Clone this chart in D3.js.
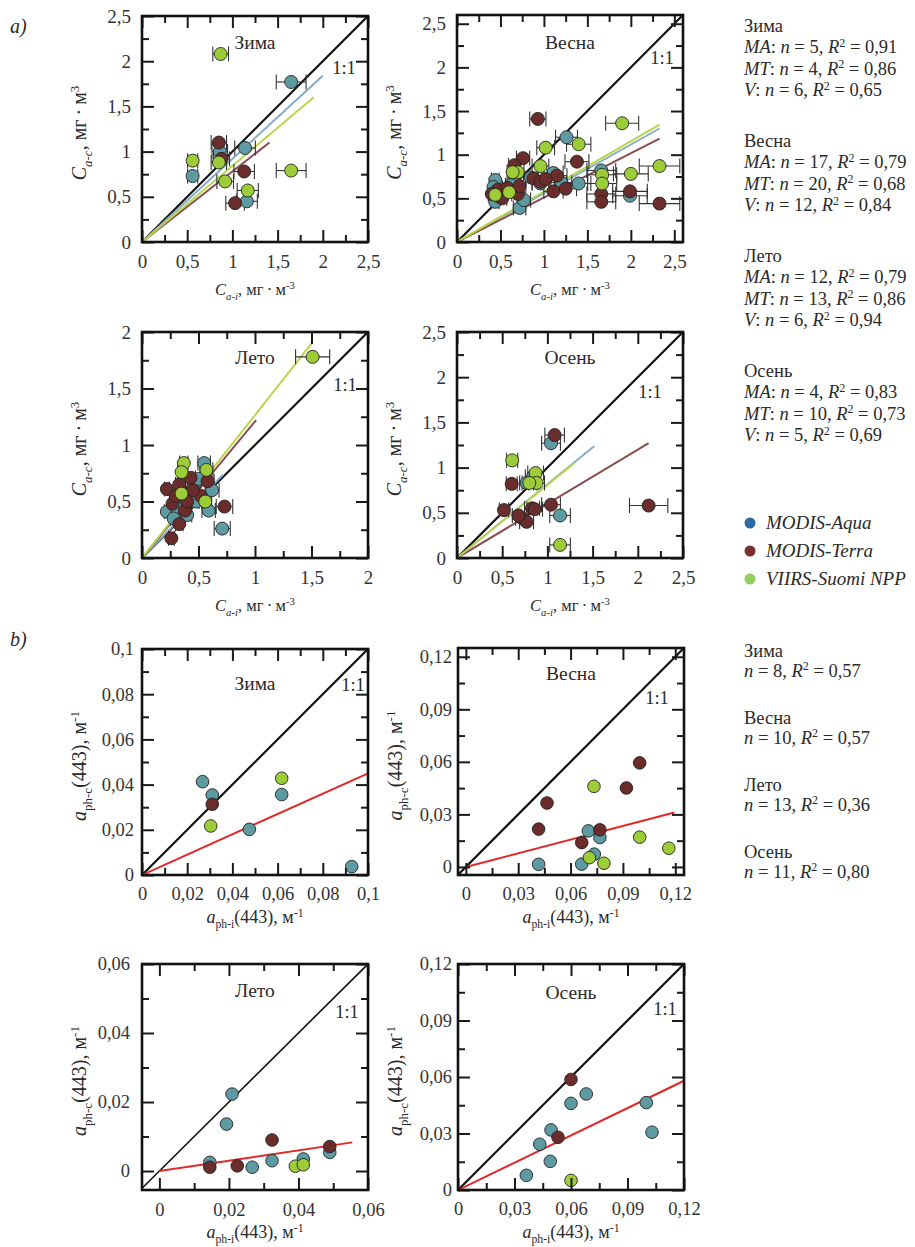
<!DOCTYPE html>
<html>
<meta charset="utf-8">
<head>
<script src="https://d3js.org/d3.v7.min.js"></script>
<style>
body { margin: 0; background: #fff; }
text { font-family: "Liberation Serif", "Times New Roman", serif !important; }
.tick line { stroke: #1a1a1a; stroke-width: 2; }
</style>
</head>
<body>
<div id="chart"></div>
<script>
// ---------- data ----------
var seasons = ["Зима", "Весна", "Лето", "Осень"];
var sensors = ["aqua", "terra", "viirs"];
var sensorNames = ["MODIS-Aqua", "MODIS-Terra", "VIIRS-Suomi NPP"];

// a) chlorophyll: [C a-i, C a-c], mg/m3
var chlWinter = {
  aqua:  [[1.65,1.77],[1.14,1.04],[0.86,1.0],[0.56,0.73],[1.16,0.45]],
  terra: [[0.85,1.10],[1.13,0.78],[1.03,0.43],[0.88,0.92]],
  viirs: [[0.87,2.08],[0.56,0.90],[0.85,0.88],[0.92,0.67],[1.17,0.57],[1.65,0.79]]
};
var chlSpring = {
  aqua:  [[1.26,1.20],[1.40,0.67],[1.66,0.82],[1.99,0.53],[0.44,0.71],[0.44,0.46],[0.72,0.39],[0.77,0.48],[1.11,0.79],
          [0.96,0.67],[0.66,0.71],[0.42,0.63],[0.55,0.58],[0.85,0.74],[1.20,0.68],[0.62,0.65],[0.48,0.52]],
  terra: [[0.93,1.41],[0.76,0.96],[0.66,0.88],[1.38,0.92],[0.88,0.73],[0.96,0.69],[1.15,0.76],[1.11,0.58],[1.25,0.61],[0.47,0.60],
          [0.40,0.55],[0.70,0.55],[1.66,0.55],[1.66,0.46],[1.99,0.58],[2.33,0.44],[0.58,0.62],[1.02,0.72],[0.52,0.50],[0.72,0.64]],
  viirs: [[1.90,1.36],[1.40,1.12],[1.02,1.08],[2.33,0.87],[2.0,0.78],[1.67,0.77],[1.67,0.67],[0.96,0.87],[0.70,0.80],[0.64,0.80],
          [0.60,0.57],[0.44,0.54]]
};
var chlSummer = {
  aqua:  [[0.55,0.84],[0.22,0.41],[0.59,0.42],[0.71,0.26],[0.34,0.53],[0.45,0.62],[0.30,0.45],[0.50,0.70],[0.40,0.38],[0.62,0.60],
          [0.28,0.35],[0.48,0.50]],
  terra: [[0.22,0.61],[0.26,0.175],[0.73,0.455],[0.58,0.68],[0.43,0.71],[0.33,0.65],[0.27,0.48],[0.33,0.30],[0.38,0.42],[0.52,0.55],
          [0.30,0.55],[0.45,0.60],[0.40,0.50]],
  viirs: [[1.51,1.78],[0.37,0.84],[0.35,0.76],[0.57,0.78],[0.35,0.57],[0.56,0.50]]
};
var chlAutumn = {
  aqua:  [[1.04,1.27],[1.14,0.47],[0.77,0.83],[0.84,0.90]],
  terra: [[1.08,1.36],[0.605,0.82],[0.52,0.53],[1.04,0.59],[0.83,0.55],[0.86,0.54],[0.72,0.44],[0.77,0.40],[2.12,0.58],[0.68,0.47]],
  viirs: [[0.61,1.08],[0.87,0.94],[0.88,0.83],[0.80,0.83],[1.14,0.145]]
};
// regression line end points (lines start at the origin)
var chlFits = [
  { aqua: [2.0,1.84],  terra: [1.41,1.10], viirs: [1.9,1.6] },
  { aqua: [2.33,1.30], terra: [2.33,1.185], viirs: [2.33,1.345] },
  { aqua: [0.72,0.74], terra: [1.01,1.22], viirs: [1.51,1.91] },
  { aqua: [1.52,1.24], terra: [2.12,1.27], viirs: [1.3,1.05] }
];
var chlRelErr = 0.1;

// b) phytoplankton absorption: [a ph-i(443), a ph-c(443)], 1/m
var aphWinter = {
  aqua:  [[0.0268,0.0413],[0.0311,0.0354],[0.0618,0.0356],[0.0475,0.0202],[0.0928,0.0037]],
  terra: [[0.0311,0.0313]],
  viirs: [[0.0618,0.0428],[0.0304,0.0217]]
};
var aphSpring = {
  aqua:  [[0.0417,0.0015],[0.0664,0.0016],[0.0702,0.0206],[0.0768,0.0168],[0.0736,0.0073]],
  terra: [[0.0996,0.0594],[0.092,0.0451],[0.0465,0.0365],[0.0417,0.0216],[0.0664,0.0139],[0.0768,0.0212]],
  viirs: [[0.0734,0.046],[0.0996,0.017],[0.1163,0.0107],[0.0708,0.0053],[0.0791,0.0021]]
};
var aphSummer = {
  aqua:  [[0.0209,0.0223],[0.0193,0.0136],[0.0145,0.0025],[0.0267,0.0011],[0.0324,0.003],[0.0414,0.0035],[0.049,0.0054]],
  terra: [[0.0324,0.009],[0.0145,0.0011],[0.0224,0.0015],[0.049,0.0071]],
  viirs: [[0.0391,0.0014],[0.0414,0.0018]]
};
var aphAutumn = {
  aqua:  [[0.0681,0.051],[0.060,0.046],[0.0494,0.0319],[0.0434,0.0243],[0.049,0.0152],[0.0363,0.0078],[0.100,0.0464],[0.103,0.0307]],
  terra: [[0.060,0.0587],[0.0531,0.028]],
  viirs: [[0.060,0.0051]]
};
var aphFits = [[0.1,0.045],[0.1195,0.0311],[0.0555,0.0083],[0.12,0.058]];

// tick labels
var ticksA = [[0,0.5,1,1.5,2,2.5],[0,0.5,1,1.5,2,2.5],[0,0.5,1,1.5,2],[0,0.5,1,1.5,2,2.5]];
var ticksB = [[0,0.02,0.04,0.06,0.08,0.1],[0,0.03,0.06,0.09,0.12],[0,0.02,0.04,0.06],[0,0.03,0.06,0.09,0.12]];

// statistics: [n, R2]
var statsMA = [[5,0.91],[17,0.79],[12,0.79],[4,0.83]];
var statsMT = [[4,0.86],[20,0.68],[13,0.86],[10,0.73]];
var statsV  = [[6,0.65],[12,0.84],[6,0.94],[5,0.69]];
var statsB  = [[8,0.57],[10,0.57],[13,0.36],[11,0.80]];

// ---------- layout / style ----------
var W = 915, H = 1247;
var FONT = '"Liberation Serif", "Times New Roman", serif';
var pointFill = { aqua: "#5e9aa2", terra: "#6b2c2c", viirs: "#9ccc38" };
var lineColor = { aqua: "#86abc6", terra: "#8a4d4d", viirs: "#b9d54c" };
var legendFill = ["#2f6aa3", "#7a2f2f", "#8fcf62"];

// fs: tick font size, yp / xp: tick label paddings, t: title baseline offset
var layoutA = [
  { x0: 142, y0: 16,  w: 226, h: 226, xd: [0,2.5], yd: [0,2.5], minor: 0.25, lbl: [-24,52], fs: 19, yp: 11, xp: 13, t: 33 },
  { x0: 457, y0: 15,  w: 226, h: 227, xd: [0,2.6], yd: [0,2.6], minor: 0.25, lbl: [-21,43], fs: 19, yp: 11, xp: 13, t: 34 },
  { x0: 142, y0: 332, w: 226, h: 226, xd: [0,2],   yd: [0,2],   minor: 0.25, lbl: [-23,53], fs: 19, yp: 11, xp: 13, t: 32 },
  { x0: 457, y0: 332, w: 226, h: 226, xd: [0,2.5], yd: [0,2.5], minor: 0.25, lbl: [-33,60], fs: 19, yp: 11, xp: 13, t: 32 }
];
var layoutB = [
  { x0: 142, y0: 649, w: 226, h: 226, xd: [0,0.1], yd: [0,0.1], minor: 0.01, lbl: [-15,36], fs: 18.5, yp: 8, xp: 12, t: 41 },
  { x0: 458, y0: 648, w: 226, h: 227, xd: [-0.0045,0.125], yd: [-0.0046,0.125], minor: 0.015, lbl: [-27,50], fs: 18.5, yp: 6, xp: 12, t: 32 },
  { x0: 142, y0: 964, w: 226, h: 226, xd: [-0.005,0.06], yd: [-0.0055,0.06], minor: 0.01, lbl: [-21,48], fs: 18.5, yp: 12, xp: 13, t: 33 },
  { x0: 458, y0: 964, w: 226, h: 226, xd: [0,0.12], yd: [0,0.12], minor: 0.015, lbl: [-19,45], fs: 18.5, yp: 6, xp: 12, t: 35 }
];

var loc = d3.formatLocale({ decimal: ",", thousands: "\u00a0", grouping: [3], currency: ["", ""] });
var tickFmt = loc.format("~g");
var r2Fmt = loc.format(".2f");

var svg = d3.select("#chart").append("svg").attr("width", W).attr("height", H)
  .attr("font-family", FONT).style("font-family", FONT);

// text with italic / sub / sup pieces
function rich(sel, segs, size) {
  var shift = 0;
  segs.forEach(function(s) {
    var target = s.sub ? size * 0.3 : (s.sup ? -size * 0.35 : 0);
    var t = sel.append("tspan").text(s.t).attr("dy", target - shift);
    shift = target;
    if (s.sub || s.sup) t.attr("font-size", size * 0.65);
    if (s.i) t.attr("font-style", "italic");
  });
}

function txt(x, y, size) {
  return svg.append("text").attr("x", x).attr("y", y).attr("font-size", size)
    .style("font-family", FONT).attr("fill", "#2a2a2a");
}

function drawPanel(idx, cfg, data, fits, title, ticks, opts) {
  var x = d3.scaleLinear().domain(cfg.xd).range([cfg.x0, cfg.x0 + cfg.w]);
  var y = d3.scaleLinear().domain(cfg.yd).range([cfg.y0 + cfg.h, cfg.y0]);
  var g = svg.append("g");
  var clipId = "clip" + opts.key + idx;
  g.append("clipPath").attr("id", clipId).append("rect")
    .attr("x", cfg.x0).attr("y", cfg.y0).attr("width", cfg.w).attr("height", cfg.h);
  var inner = g.append("g").attr("clip-path", "url(#" + clipId + ")");

  // 1:1 line
  var lo = Math.max(cfg.xd[0], cfg.yd[0]), hi = Math.min(cfg.xd[1], cfg.yd[1]);
  inner.append("line")
    .attr("x1", x(lo)).attr("y1", y(lo)).attr("x2", x(hi)).attr("y2", y(hi))
    .attr("stroke", "#111").attr("stroke-width", opts.key === "b" && idx === 2 ? 1.6 : 2.2);

  // regression lines
  if (opts.key === "a") {
    sensors.forEach(function(s) {
      var e = fits[s];
      inner.append("line")
        .attr("x1", x(0)).attr("y1", y(0)).attr("x2", x(e[0])).attr("y2", y(e[1]))
        .attr("stroke", lineColor[s]).attr("stroke-width", 2);
    });
  } else {
    inner.append("line")
      .attr("x1", x(0)).attr("y1", y(0)).attr("x2", x(fits[0])).attr("y2", y(fits[1]))
      .attr("stroke", "#e02a2a").attr("stroke-width", 2);
  }

  // error bars (a only)
  if (opts.key === "a") {
    sensors.forEach(function(s) {
      var eb = inner.append("g").attr("stroke", "#333").attr("stroke-width", 1.1);
      data[s].forEach(function(p) {
        var xl = x(p[0] * (1 - chlRelErr)), xr = x(p[0] * (1 + chlRelErr)), yy = y(p[1]);
        eb.append("line").attr("x1", xl).attr("x2", xr).attr("y1", yy).attr("y2", yy);
        eb.append("line").attr("x1", xl).attr("x2", xl).attr("y1", yy - 7.5).attr("y2", yy + 7.5);
        eb.append("line").attr("x1", xr).attr("x2", xr).attr("y1", yy - 7.5).attr("y2", yy + 7.5);
      });
    });
  }

  // points
  sensors.forEach(function(s) {
    inner.selectAll("circle." + s).data(data[s]).enter().append("circle")
      .attr("class", s)
      .attr("cx", function(d) { return x(d[0]); })
      .attr("cy", function(d) { return y(d[1]); })
      .attr("r", opts.r)
      .attr("fill", pointFill[s]).attr("stroke", "#222").attr("stroke-width", 0.9);
  });

  // ticks
  function minors(dom) {
    return d3.range(0, dom[1] + 1e-9, cfg.minor).filter(function(v) {
      return v >= dom[0] && ticks.every(function(t) { return Math.abs(t - v) > 1e-9; });
    });
  }
  var mx = minors(cfg.xd), my = minors(cfg.yd);
  var bottom = cfg.y0 + cfg.h, right = cfg.x0 + cfg.w;

  function axis(gen, tr, vals, size, labels, pad) {
    var a = g.append("g").attr("transform", tr)
      .call(gen.tickValues(vals).tickSize(-size).tickPadding(pad || 0)
        .tickFormat(labels ? tickFmt : ""));
    a.select(".domain").remove();
    a.attr("font-family", FONT);
    a.selectAll("text").attr("font-size", cfg.fs).attr("fill", "#333").style("font-family", FONT);
    return a;
  }
  axis(d3.axisBottom(x), "translate(0," + bottom + ")", ticks, 12, true, cfg.xp);
  axis(d3.axisBottom(x), "translate(0," + bottom + ")", mx, 7, false);
  axis(d3.axisTop(x), "translate(0," + cfg.y0 + ")", ticks, 12, false);
  axis(d3.axisTop(x), "translate(0," + cfg.y0 + ")", mx, 7, false);
  axis(d3.axisLeft(y), "translate(" + cfg.x0 + ",0)", ticks, 12, true, cfg.yp);
  axis(d3.axisLeft(y), "translate(" + cfg.x0 + ",0)", my, 7, false);
  axis(d3.axisRight(y), "translate(" + right + ",0)", ticks, 12, false);
  axis(d3.axisRight(y), "translate(" + right + ",0)", my, 7, false);

  // frame
  g.append("rect").attr("x", cfg.x0).attr("y", cfg.y0).attr("width", cfg.w).attr("height", cfg.h)
    .attr("fill", "none").attr("stroke", "#111").attr("stroke-width", 2.6);

  // labels
  txt(cfg.x0 + cfg.w / 2, cfg.y0 + cfg.t, 19.5).attr("text-anchor", "middle").text(title);
  txt(right + cfg.lbl[0], cfg.y0 + cfg.lbl[1] + 6, 18.5).attr("text-anchor", "middle").text("1:1");

  var yt = txt(0, 0, opts.ySize).attr("text-anchor", "middle")
    .attr("transform", "translate(" + (cfg.x0 - 56) + "," + (cfg.y0 + cfg.h / 2 + 4) + ") rotate(-90)");
  rich(yt, opts.yTitle, opts.ySize);
  var xt = txt(cfg.x0 + cfg.w / 2, bottom + opts.xTitleDy, opts.xSize).attr("text-anchor", "middle");
  rich(xt, opts.xTitle, opts.xSize);
}

var dot = "\u2009·\u2009";
var optsA = {
  key: "a", r: 6.5, xTitleDy: 53, ySize: 20, xSize: 16.5,
  yTitle: [{ t: "C", i: true }, { t: "a-c", i: true, sub: true }, { t: ", мг" + dot + "м" }, { t: "3", sup: true }],
  xTitle: [{ t: "C", i: true }, { t: "a-i", i: true, sub: true }, { t: ", мг" + dot + "м" }, { t: "-3", sup: true }]
};
var optsB = {
  key: "b", r: 6.3, xTitleDy: 48, ySize: 20, xSize: 18,
  yTitle: [{ t: "a", i: true }, { t: "ph-c", sub: true }, { t: "(443), м" }, { t: "-1", sup: true }],
  xTitle: [{ t: "a", i: true }, { t: "ph-i", sub: true }, { t: "(443), м" }, { t: "-1", sup: true }]
};

var chlData = [chlWinter, chlSpring, chlSummer, chlAutumn];
var aphData = [aphWinter, aphSpring, aphSummer, aphAutumn];
seasons.forEach(function(s, i) {
  drawPanel(i, layoutA[i], chlData[i], chlFits[i], s, ticksA[i], optsA);
  drawPanel(i, layoutB[i], aphData[i], aphFits[i], s, ticksB[i], optsB);
});

// panel letters
txt(10, 33, 20).attr("font-style", "italic").text("a)");
txt(10, 646, 20).attr("font-style", "italic").text("b)");

// side statistics, part a
var sx = 744, SF = 18.5;
function statLine(yPos, label, st) {
  var t = txt(sx, yPos, SF);
  var segs = [];
  if (label) segs.push({ t: label, i: true }, { t: ": " });
  segs.push({ t: "n", i: true }, { t: " = " + st[0] + ", " }, { t: "R", i: true }, { t: "2", sup: true },
            { t: " = " + r2Fmt(st[1]) });
  rich(t, segs, SF);
}
seasons.forEach(function(s, i) {
  var y0 = 31.5 + i * 115;
  txt(sx, y0, SF).text(s);
  statLine(y0 + 21.5, "MA", statsMA[i]);
  statLine(y0 + 43, "MT", statsMT[i]);
  statLine(y0 + 64.5, "V", statsV[i]);
});

// legend
sensorNames.forEach(function(n, i) {
  var cy = 523 + i * 28;
  svg.append("circle").attr("cx", 750).attr("cy", cy).attr("r", 5.5).attr("fill", legendFill[i]);
  txt(766, cy + 6, 19).attr("font-style", "italic").text(n);
});

// side statistics, part b
seasons.forEach(function(s, i) {
  var y0 = 656.5 + i * 67;
  txt(sx, y0, SF).text(s);
  statLine(y0 + 20, null, statsB[i]);
});
</script>
</body>
</html>
